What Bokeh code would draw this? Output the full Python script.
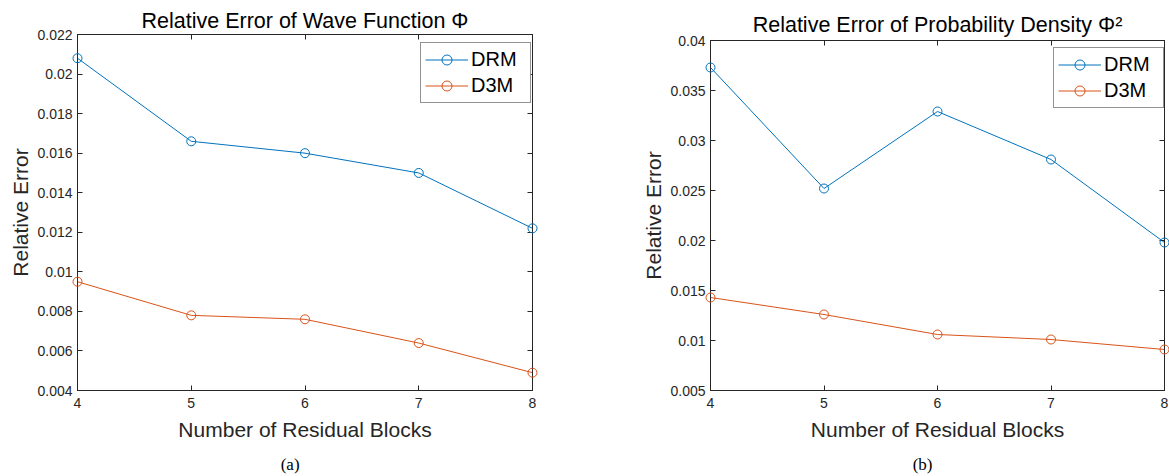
from bokeh.plotting import figure
from bokeh.layouts import row, column
from bokeh.models import (ColumnDataSource, Range1d, FixedTicker, LinearAxis, Legend,
                          LegendItem)
from bokeh.embed import file_html
from bokeh.resources import INLINE

# ---------------- data ----------------
blocks = [4, 5, 6, 7, 8]
xtick_labels = ["4", "5", "6", "7", "8"]

phi_drm = [0.0208, 0.0166, 0.0160, 0.0150, 0.0122]
phi_d3m = [0.0095, 0.0078, 0.0076, 0.0064, 0.0049]

phi2_drm = [0.0373, 0.0252, 0.0329, 0.0281, 0.0198]
phi2_d3m = [0.0143, 0.0126, 0.0106, 0.0101, 0.0091]

yticks_a = [0.004, 0.006, 0.008, 0.010, 0.012, 0.014, 0.016, 0.018, 0.020, 0.022]
ytick_labels_a = ["0.004", "0.006", "0.008", "0.01", "0.012", "0.014", "0.016", "0.018", "0.02", "0.022"]
yticks_b = [0.005, 0.010, 0.015, 0.020, 0.025, 0.030, 0.035, 0.040]
ytick_labels_b = ["0.005", "0.01", "0.015", "0.02", "0.025", "0.03", "0.035", "0.04"]

series_names = ["DRM", "D3M"]
series_colors = ["#0072BD", "#D95319"]

title_a = "Relative Error of Wave Function \u03a6"
title_b = "Relative Error of Probability Density \u03a6\u00b2"
xlabel = "Number of Residual Blocks"
ylabel = "Relative Error"
captions = ["(a)", "(b)"]

AX = "#262626"
SANS = "Liberation Sans"
PAD = "\u00a0" * 7   # shifts the sub-figure caption slightly left of the frame centre


def make_panel(title, ys, yticks, ylabels, caption, width, height, borders, legend_loc, title_gap):
    bl, br, bt, bb = borders
    p = figure(width=width, height=height, output_backend="svg", toolbar_location=None,
               x_range=Range1d(blocks[0], blocks[-1]),
               y_range=Range1d(yticks[0], yticks[-1]),
               min_border_left=bl, min_border_right=br,
               min_border_top=bt, min_border_bottom=bb)
    p.background_fill_color = "white"
    p.border_fill_color = "white"
    p.outline_line_color = AX
    p.outline_line_width = 1
    p.xgrid.visible = False
    p.ygrid.visible = False

    xa = p.xaxis[0]
    ya = p.yaxis[0]
    xa.ticker = FixedTicker(ticks=blocks)
    ya.ticker = FixedTicker(ticks=yticks)
    xa.major_label_overrides = {b: l for b, l in zip(blocks, xtick_labels)}
    ya.major_label_overrides = {t: l for t, l in zip(yticks, ylabels)}
    for ax in (xa, ya):
        ax.major_tick_in = 5
        ax.major_tick_out = 0
        ax.minor_tick_line_color = None
        ax.axis_line_color = AX
        ax.major_tick_line_color = AX
        ax.major_label_text_font = SANS
        ax.major_label_text_font_size = "14px"
        ax.major_label_text_color = AX
        ax.axis_label_text_font = SANS
        ax.axis_label_text_font_size = "21px"
        ax.axis_label_text_font_style = "normal"
        ax.axis_label_text_color = AX
    xa.axis_label = xlabel
    ya.axis_label = ylabel
    xa.major_label_standoff = 7
    xa.axis_label_standoff = 7
    ya.major_label_standoff = 5
    ya.axis_label_standoff = 2

    # top axis: mirrored ticks + the chart title as its label
    top = LinearAxis(ticker=FixedTicker(ticks=blocks), major_tick_in=5, major_tick_out=0,
                     major_label_text_font_size="0px", major_label_text_color=None,
                     major_label_standoff=0, minor_tick_line_color=None,
                     axis_line_color=AX, major_tick_line_color=AX,
                     axis_label=title, axis_label_standoff=title_gap,
                     axis_label_text_font=SANS, axis_label_text_font_size="21.5px",
                     axis_label_text_font_style="normal", axis_label_text_color="black")
    p.add_layout(top, "above")
    # right axis: mirrored ticks only
    right = LinearAxis(ticker=FixedTicker(ticks=yticks), major_tick_in=5, major_tick_out=0,
                       major_label_text_font_size="0px", major_label_text_color=None,
                       major_label_standoff=0, minor_tick_line_color=None,
                       axis_line_color=AX, major_tick_line_color=AX)
    p.add_layout(right, "right")
    # sub-figure caption below the x-axis label
    cap = LinearAxis(ticker=FixedTicker(ticks=[]), major_tick_in=0, major_tick_out=0,
                     major_label_text_font_size="0px", major_label_text_color=None,
                     major_label_standoff=0, minor_tick_line_color=None,
                     axis_line_color=None, major_tick_line_color=None,
                     axis_label=caption + PAD, axis_label_standoff=11,
                     axis_label_text_font="Liberation Serif", axis_label_text_font_size="17px",
                     axis_label_text_font_style="normal", axis_label_text_color="black")
    p.add_layout(cap, "below")

    items = []
    for name, color, yv in zip(series_names, series_colors, ys):
        src = ColumnDataSource(dict(x=blocks, y=yv))
        ln = p.line("x", "y", source=src, line_color=color, line_width=1)
        sc = p.scatter("x", "y", source=src, marker="circle", size=9,
                       line_color=color, line_width=1, fill_alpha=0)
        sc.level = "overlay"
        items.append(LegendItem(label=name, renderers=[ln, sc]))

    leg = Legend(items=items, location=legend_loc, border_line_color=AX,
                 border_line_width=1, background_fill_color="white", background_fill_alpha=1,
                 label_text_font=SANS, label_text_font_size="20px", label_text_color="black",
                 glyph_width=43, glyph_height=25, label_height=25, label_width=55,
                 label_standoff=3, padding=4, spacing=1, margin=0)
    p.add_layout(leg, "center")
    return p


p1 = make_panel(title_a, [phi_drm, phi_d3m], yticks_a, ytick_labels_a, captions[0],
                590, 476, (77, 58, 34, 86), (343, 287), 2)
p2 = make_panel(title_b, [phi2_drm, phi2_d3m], yticks_b, ytick_labels_b, captions[1],
                579, 476, (120, 5, 40, 86), (343, 282), 4)

# each panel in its own column so that the two frames are laid out independently
layout = row(column(p1), column(p2))
open("out.html", "w").write(file_html(layout, INLINE))
